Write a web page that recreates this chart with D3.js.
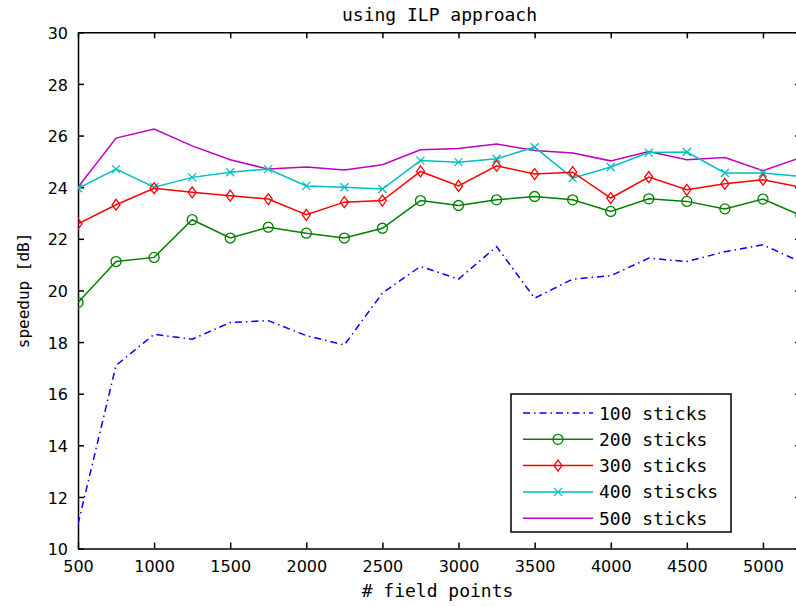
<!DOCTYPE html>
<html>
<head>
<meta charset="utf-8">
<script src="https://cdn.jsdelivr.net/npm/d3@7"></script>
<style>
    body { margin: 0; background: #ffffff; overflow: hidden; }
    #vis { width: 796px; height: 606px; }
    .mono { font-family: "DejaVu Sans Mono", "Liberation Mono", monospace; }
    .tick text { font-family: "DejaVu Sans", sans-serif; font-size: 16px; fill: #000; }
</style>
</head>
<body>
<div id="vis"></div>
<script>
// field points on the x axis
var fieldPoints = [500, 750, 1000, 1250, 1500, 1750, 2000, 2250, 2500, 2750,
                   3000, 3250, 3500, 3750, 4000, 4250, 4500, 4750, 5000, 5250];

// speedup [dB], one array per stick count
var sticks100 = [10.95, 17.1, 18.3, 18.11, 18.76, 18.83, 18.25, 17.89, 19.9, 20.93,
                 20.44, 21.7, 19.7, 20.44, 20.57, 21.25, 21.12, 21.5, 21.77, 21.1];
var sticks200 = [19.53, 21.12, 21.28, 22.74, 22.03, 22.45, 22.22, 22.03, 22.41, 23.48,
                 23.29, 23.51, 23.64, 23.51, 23.06, 23.55, 23.45, 23.16, 23.54, 22.9];
var sticks300 = [22.58, 23.32, 23.96, 23.8, 23.67, 23.54, 22.93, 23.42, 23.48, 24.61,
                 24.05, 24.83, 24.51, 24.58, 23.58, 24.39, 23.9, 24.13, 24.29, 24.0];
var sticks400 = [23.96, 24.7, 24.0, 24.38, 24.58, 24.7, 24.05, 24.0, 23.93, 25.03,
                 24.97, 25.1, 25.55, 24.35, 24.78, 25.34, 25.36, 24.55, 24.55, 24.42];
var sticks500 = [24.0, 25.9, 26.25, 25.6, 25.06, 24.7, 24.78, 24.67, 24.87, 25.45,
                 25.5, 25.67, 25.42, 25.32, 25.02, 25.38, 25.06, 25.15, 24.64, 25.15];

var seriesNames = ["100 sticks", "200 sticks", "300 sticks", "400 stiscks", "500 sticks"];
var seriesValues = [sticks100, sticks200, sticks300, sticks400, sticks500];

var xTicks = [500, 1000, 1500, 2000, 2500, 3000, 3500, 4000, 4500, 5000];
var yTicks = [10, 12, 14, 16, 18, 20, 22, 24, 26, 28, 30];

var titleText = "using ILP approach";
var xLabelText = "# field points";
var yLabelText = "speedup [dB]";

class speedupChart{
    constructor(){
        this.width = 796,
        this.height = 606,
        this.left = 78,
        this.right = 801,
        this.top = 32.3,
        this.bottom = 548.6,
        this.svg,
        this.g,
        this.x,
        this.y,
        this.colours = ["#0000ff", "#008000", "#ff0000", "#00bfbf", "#bf00bf"],
        this.markers = ["none", "circle", "diamond", "cross", "none"]
    }

    init(elementID){
        this.svg = d3.select("#" + elementID)
            .append("svg")
            .attr("width", this.width)
            .attr("height", this.height);

        this.x = d3.scaleLinear().domain([500, 5250]).range([this.left, this.right]);
        this.y = d3.scaleLinear().domain([10, 30]).range([this.bottom, this.top]);

        this.svg.append("clipPath").attr("id", "plotclip")
            .append("rect")
            .attr("x", this.left).attr("y", this.top)
            .attr("width", this.right - this.left)
            .attr("height", this.bottom - this.top);

        this.g = this.svg.append("g");
        this.drawAxes();
        this.drawLines();
        this.drawLegend();
        this.drawLabels();
    }

    drawAxes(){
        let tickLen = 6;
        let xb = this.g.append("g")
            .attr("transform", "translate(0," + this.bottom + ")")
            .call(d3.axisBottom(this.x).tickValues(xTicks).tickFormat(d3.format("d"))
                .tickSizeInner(-tickLen).tickSizeOuter(0).tickPadding(12));
        let xt = this.g.append("g")
            .attr("transform", "translate(0," + this.top + ")")
            .call(d3.axisTop(this.x).tickValues(xTicks).tickSizeInner(-tickLen).tickSizeOuter(0).tickFormat(""));
        let yl = this.g.append("g")
            .attr("transform", "translate(" + this.left + ",0)")
            .call(d3.axisLeft(this.y).tickValues(yTicks).tickSizeInner(-tickLen).tickSizeOuter(0).tickPadding(10));
        let yr = this.g.append("g")
            .attr("transform", "translate(" + this.right + ",0)")
            .call(d3.axisRight(this.y).tickValues(yTicks).tickSizeInner(-tickLen).tickSizeOuter(0).tickFormat(""));

        [xb, xt, yl, yr].forEach(function(a){
            a.select(".domain").attr("stroke", "#000").attr("stroke-width", 1.5);
            a.selectAll(".tick line").attr("stroke", "#000").attr("stroke-width", 1.5);
        });
        xb.selectAll(".tick text").attr("dy", "0.71em");
        yl.selectAll(".tick text").attr("dy", "0.38em");
    }

    markerPath(kind){
        if (kind === "diamond"){
            return "M0,-5.5L4,0L0,5.5L-4,0Z";
        }
        if (kind === "cross"){
            return "M-4,-4L4,4M-4,4L4,-4";
        }
        return null;
    }

    drawOne(parent, colour, marker, points, dashed){
        let line = d3.line().x(d => d[0]).y(d => d[1]);
        parent.append("path")
            .attr("d", line(points))
            .attr("fill", "none")
            .attr("stroke", colour)
            .attr("stroke-width", 1.5)
            .attr("stroke-dasharray", dashed ? "7,4,1.5,4" : null);

        if (marker === "circle"){
            parent.selectAll(null).data(points).enter()
                .append("circle")
                .attr("cx", d => d[0]).attr("cy", d => d[1]).attr("r", 5)
                .attr("fill", "none").attr("stroke", colour).attr("stroke-width", 1.3);
        }
        else if (marker !== "none"){
            let p = this.markerPath(marker);
            parent.selectAll(null).data(points).enter()
                .append("path")
                .attr("transform", d => "translate(" + d[0] + "," + d[1] + ")")
                .attr("d", p)
                .attr("fill", "none").attr("stroke", colour).attr("stroke-width", 1.3);
        }
    }

    drawLines(){
        let plot = this.g.append("g").attr("clip-path", "url(#plotclip)");
        for (var i = seriesValues.length - 1; i >= 0; i--){
            let pts = fieldPoints.map((fp, j) => [this.x(fp), this.y(seriesValues[i][j])]);
            this.drawOne(plot.append("g"), this.colours[i], this.markers[i], pts, i === 0);
        }
    }

    drawLegend(){
        let lx = 511, ly = 394, lw = 220, lh = 138;
        let leg = this.g.append("g");
        leg.append("rect")
            .attr("x", lx).attr("y", ly).attr("width", lw).attr("height", lh)
            .attr("fill", "#fff").attr("stroke", "#000").attr("stroke-width", 1.5);

        for (var i = 0; i < seriesNames.length; i++){
            let yy = 413 + i * 26.3;
            let row = leg.append("g");
            this.drawOne(row, this.colours[i], "none", [[523, yy], [593, yy]], i === 0);
            if (this.markers[i] !== "none"){
                this.drawOne(row, this.colours[i], this.markers[i], [[558, yy]], false);
            }
            row.append("text")
                .attr("class", "mono")
                .attr("x", 599).attr("y", yy + 6.5)
                .attr("font-size", 18)
                .text(seriesNames[i]);
        }
    }

    drawLabels(){
        let cx = (this.left + this.right) / 2;
        this.svg.append("text")
            .attr("class", "mono")
            .attr("x", cx).attr("y", 21)
            .attr("text-anchor", "middle")
            .attr("font-size", 18)
            .text(titleText);

        this.svg.append("text")
            .attr("class", "mono")
            .attr("x", cx - 2).attr("y", 597)
            .attr("text-anchor", "middle")
            .attr("font-size", 18)
            .text(xLabelText);

        this.svg.append("text")
            .attr("class", "mono")
            .attr("transform", "translate(29," + ((this.top + this.bottom) / 2) + ") rotate(-90)")
            .attr("text-anchor", "middle")
            .attr("font-size", 16)
            .text(yLabelText);
    }
}

var chart = new speedupChart();
chart.init("vis");
</script>
</body>
</html>
